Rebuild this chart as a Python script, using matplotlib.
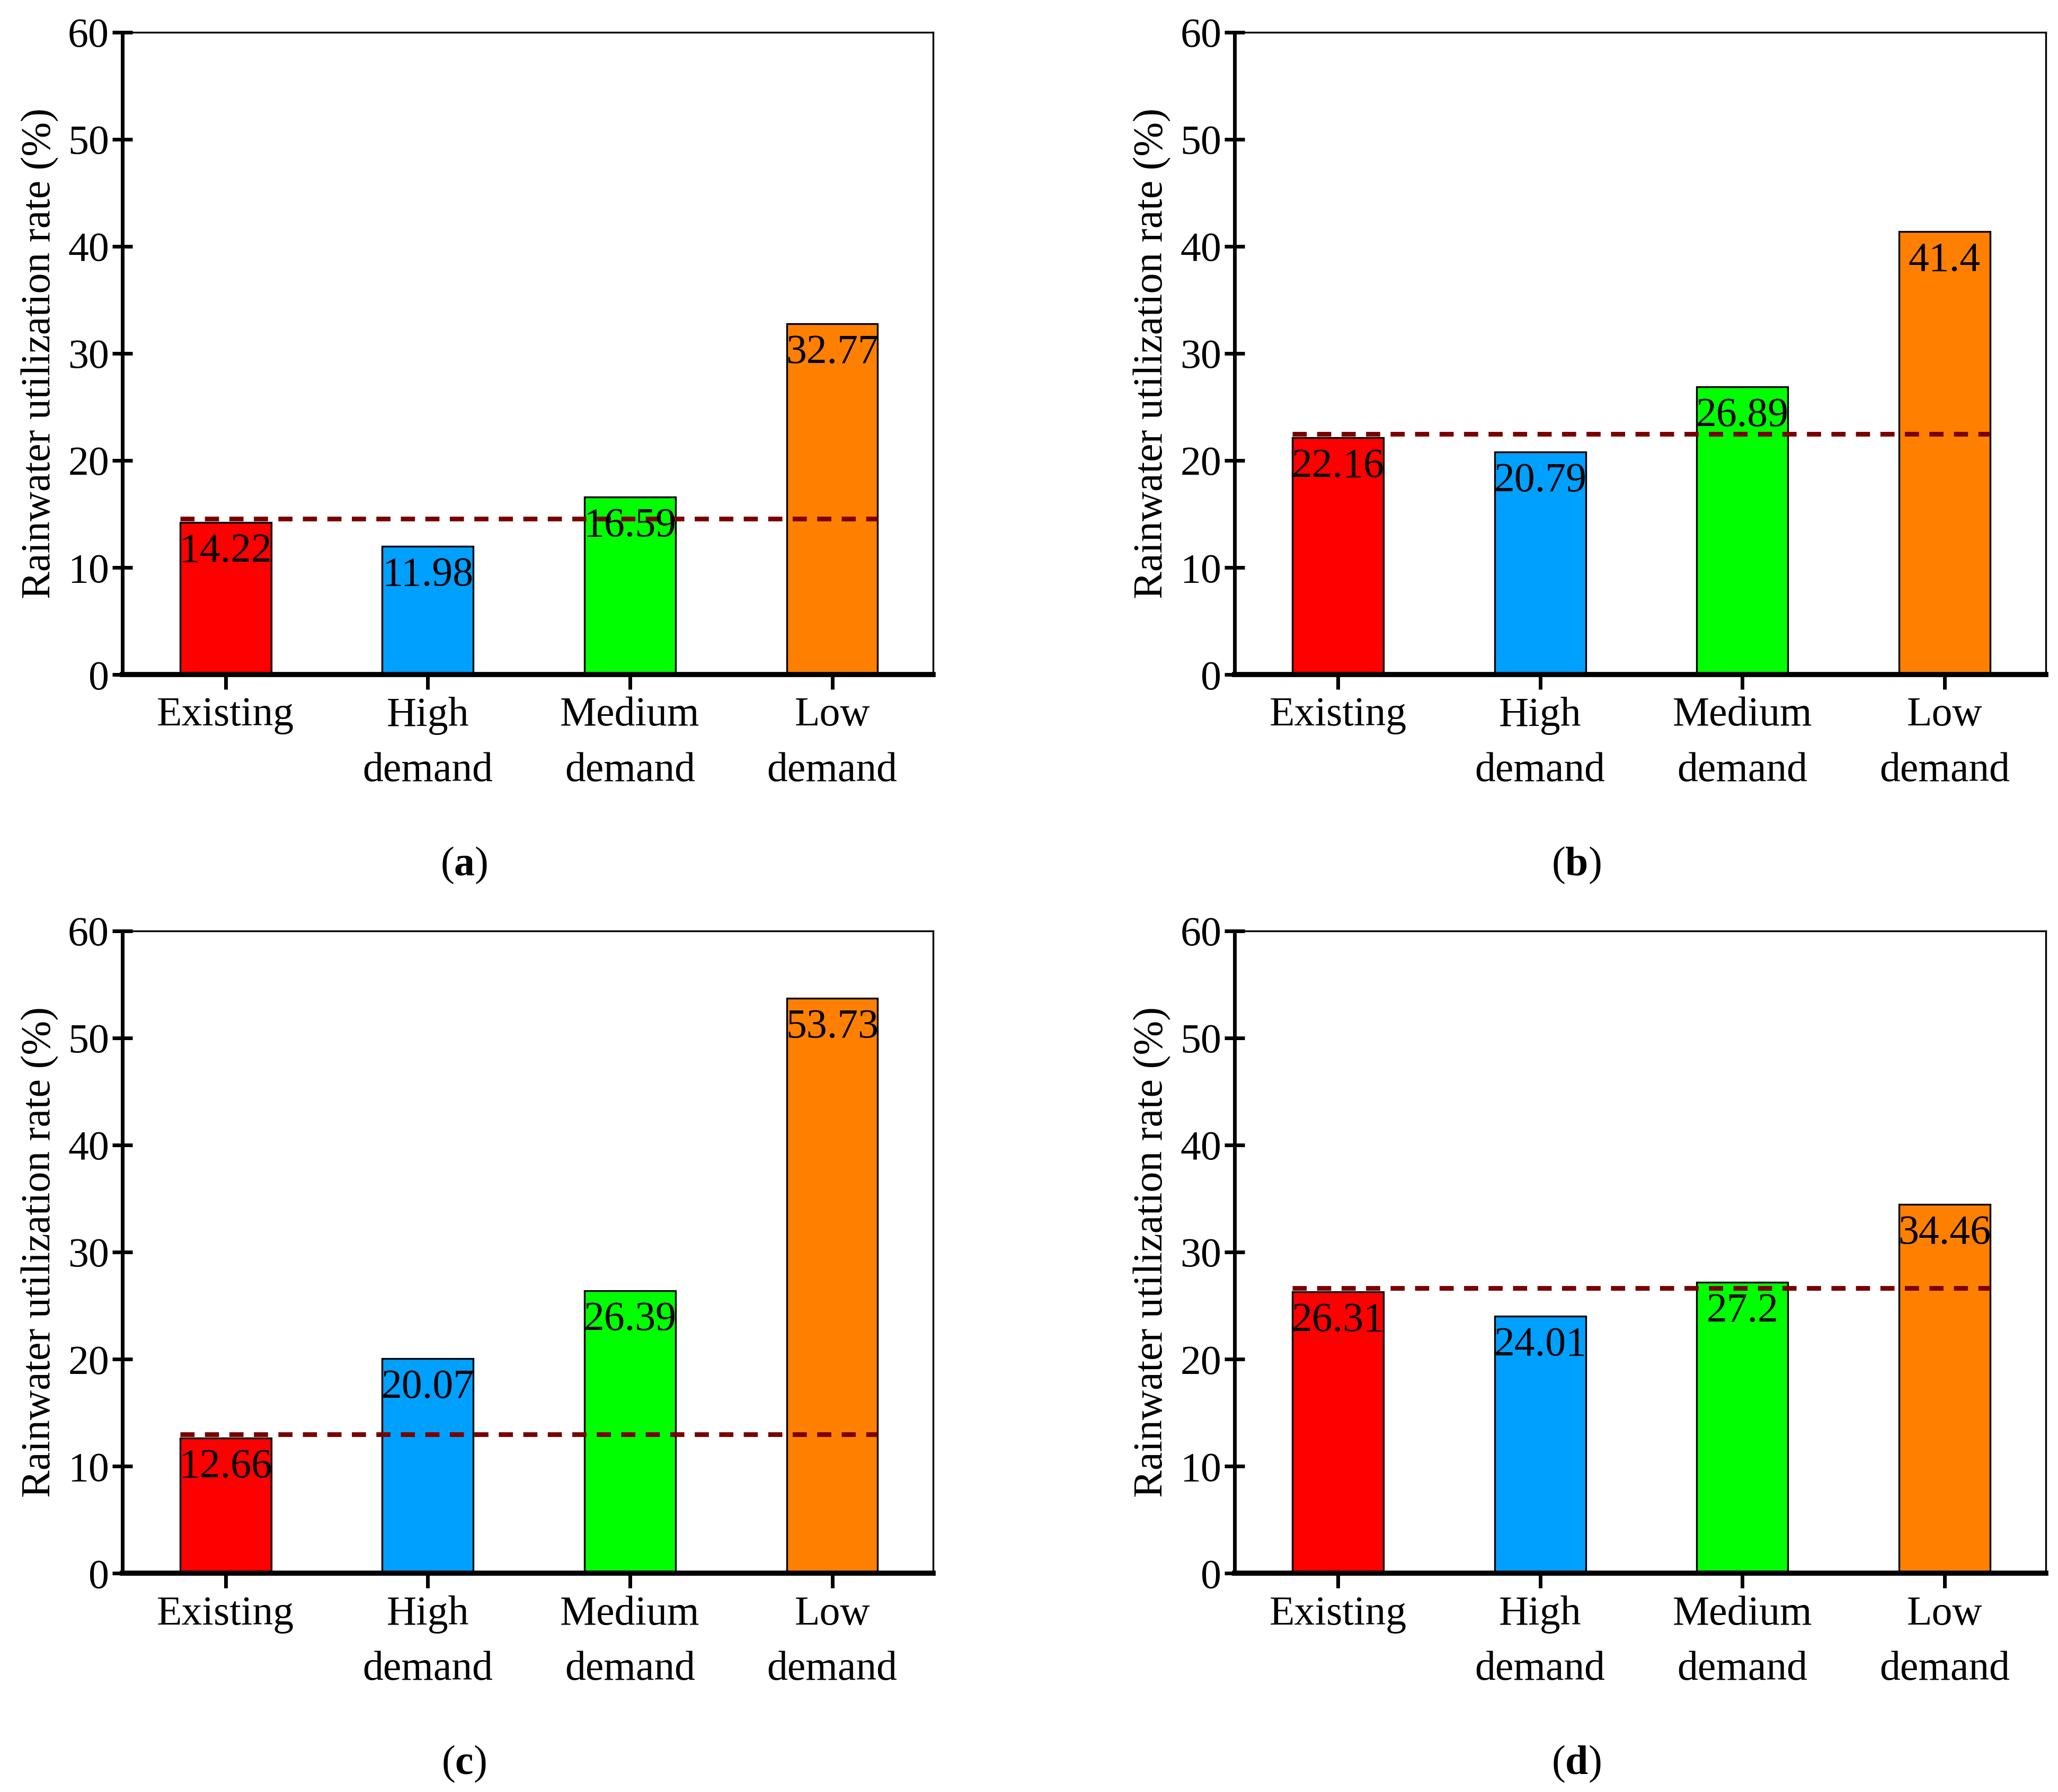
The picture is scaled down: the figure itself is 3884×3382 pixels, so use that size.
import matplotlib
matplotlib.use("Agg")
import matplotlib.pyplot as plt
import matplotlib.transforms as mtransforms

plt.rcParams['font.family'] = ['Liberation Serif', 'DejaVu Serif']
plt.rcParams['mathtext.fontset'] = 'custom'
plt.rcParams['mathtext.rm'] = 'Liberation Serif'
plt.rcParams['mathtext.bf'] = 'Liberation Serif:bold'

categories = ['Existing', 'High\ndemand', 'Medium\ndemand', 'Low\ndemand']
bar_colors = ['#ff0000', '#00a0ff', '#00ff00', '#ff8000']
panel_names = ['a', 'b', 'c', 'd']
values_a = [14.22, 11.98, 16.59, 32.77]
values_b = [22.16, 20.79, 26.89, 41.4]
values_c = [12.66, 20.07, 26.39, 53.73]
values_d = [26.31, 24.01, 27.2, 34.46]
value_labels_a = ['14.22', '11.98', '16.59', '32.77']
value_labels_b = ['22.16', '20.79', '26.89', '41.4']
value_labels_c = ['12.66', '20.07', '26.39', '53.73']
value_labels_d = ['26.31', '24.01', '27.2', '34.46']
yticks = [0, 10, 20, 30, 40, 50, 60]

all_values = [values_a, values_b, values_c, values_d]
all_labels = [value_labels_a, value_labels_b, value_labels_c, value_labels_d]

FS = 28
fig = plt.figure(figsize=(19.42, 16.91), dpi=200)

# axes positions [left, bottom, width, height] in figure fraction
positions = [
    [0.0595, 0.6235, 0.3940, 0.3585],
    [0.6000, 0.6235, 0.3940, 0.3585],
    [0.0595, 0.1220, 0.3940, 0.3585],
    [0.6000, 0.1220, 0.3940, 0.3585],
]
label_pos = [(0.2254, 0.517), (0.766, 0.517), (0.2254, 0.0155), (0.766, 0.0155)]
bar_w = 0.45

for i in range(4):
    ax = fig.add_axes(positions[i])
    vals = all_values[i]
    x = range(len(categories))
    ax.bar(x, vals, width=bar_w, color=bar_colors, edgecolor='black',
           linewidth=1.2, zorder=2)
    # reference line at existing level, drawn just above the bar top
    line_tr = mtransforms.offset_copy(ax.transData, fig=fig, x=0, y=2.5,
                                      units='points')
    ax.plot([-bar_w / 2, 3 + bar_w / 2], [vals[0], vals[0]], color='#7a0000',
            linestyle=(0, (3, 2.2)), linewidth=3.2, zorder=3,
            transform=line_tr)
    for xi, v, lab in zip(x, vals, all_labels[i]):
        ax.annotate(lab, (xi, v), xytext=(0, -7), textcoords='offset points',
                    ha='center', va='top', fontsize=FS, color='black', zorder=4)

    ax.set_xlim(-0.51, 3.5)
    ax.set_ylim(0, 60)
    ax.set_yticks(yticks)
    ax.set_xticks(list(x))
    ax.set_xticklabels(categories, linespacing=1.6)
    ax.tick_params(axis='y', direction='inout', length=14, width=2.5,
                   labelsize=FS, pad=2)
    ax.tick_params(axis='x', direction='out', length=10, width=2.5,
                   labelsize=FS, pad=5)
    ax.spines['left'].set_linewidth(2.5)
    ax.spines['bottom'].set_linewidth(3.5)
    ax.spines['top'].set_linewidth(1.2)
    ax.spines['right'].set_linewidth(1.2)
    ax.set_ylabel('Rainwater utilization rate (%)', fontsize=FS, labelpad=6)

    fig.text(label_pos[i][0], label_pos[i][1],
             r'($\mathbf{' + panel_names[i] + '}$)',
             ha='center', va='center', fontsize=FS)

fig.savefig('out.png', dpi=200)
plt.close(fig)
